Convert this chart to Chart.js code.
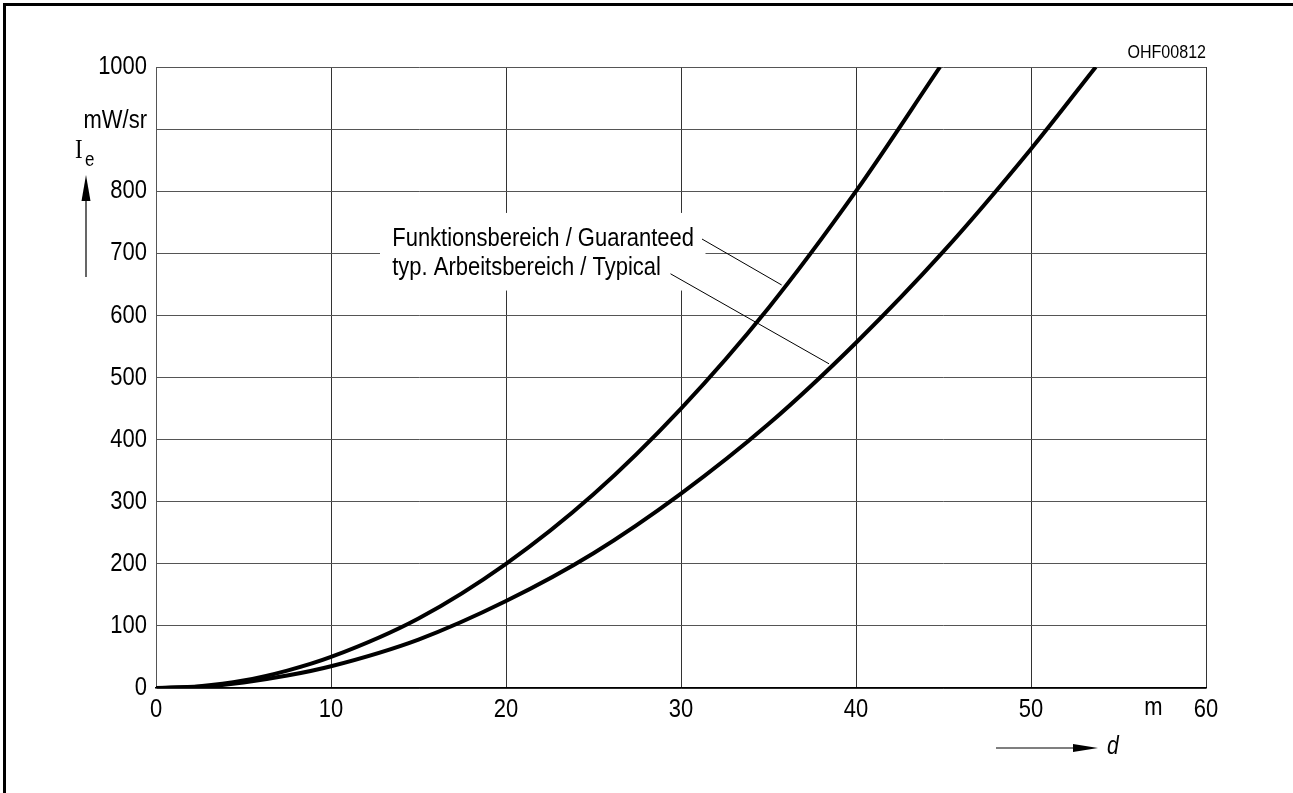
<!DOCTYPE html>
<html><head><meta charset="utf-8">
<script src="https://cdn.jsdelivr.net/npm/chart.js@4/dist/chart.umd.min.js"></script>
<style>html,body{margin:0;padding:0;background:#fff;overflow:hidden}#wrap{width:1293px;height:793px;position:relative}</style>
</head><body><div id="wrap"><canvas id="c"></canvas></div>
<script>
// Data
const guaranteedD = [0, 2.5, 5, 7.5, 10, 15, 20, 25, 30, 35, 40, 44.8];
const guaranteedI = [0, 3, 12, 28, 50, 112, 200, 312, 450, 612, 800, 1000];
const typicalD = [0, 2.5, 5, 7.5, 10, 15, 20, 25, 30, 35, 40, 45, 50, 53.7];
const typicalI = [0, 2, 9, 20, 35, 78, 140, 217, 313, 425, 556, 703, 868, 1000];
const xTicks = [0, 10, 20, 30, 40, 50, 60];
const yTicks = [0, 100, 200, 300, 400, 500, 600, 700, 800, 900, 1000];
const seriesLabels = ['Funktionsbereich / Guaranteed', 'typ. Arbeitsbereich / Typical'];
const yUnit = 'mW/sr';
const xUnit = 'm';
const figId = 'OHF00812';

const SANS = "'Liberation Sans',Arial,sans-serif";
const NARROW_SCALE = 0.845;

// condensed text rendering (narrow Helvetica look) for all text on this canvas
const canvas = document.getElementById('c');
const c2d = canvas.getContext('2d');
const origFill = c2d.fillText.bind(c2d);
c2d.fillText = function (text, x, y, maxW) {
  this.save();
  this.translate(x, y);
  this.scale(NARROW_SCALE, 1);
  if (maxW !== undefined) origFill(text, 0, 0, maxW / NARROW_SCALE); else origFill(text, 0, 0);
  this.restore();
};

function pts(xs, ys) { return xs.map((x, i) => ({ x: x, y: ys[i] })); }

const decor = {
  id: 'decor',
  afterDraw(chart) {
    const ctx = chart.ctx, ca = chart.chartArea;
    const xs = chart.scales.x, ys = chart.scales.y;
    ctx.save();
    // figure frame
    ctx.strokeStyle = '#000'; ctx.lineWidth = 3;
    ctx.strokeRect(4.5, 4.5, 1400, 900);
    ctx.fillStyle = '#000';
    // figure id
    ctx.font = "19px " + SANS; ctx.textAlign = 'right'; ctx.textBaseline = 'middle';
    ctx.fillText(figId, ca.right, 53);
    // y unit
    ctx.font = "26px " + SANS;
    ctx.fillText(yUnit, ca.left - 9, ys.getPixelForValue(900) - 8);
    // I_e
    ctx.textAlign = 'left';
    ctx.font = "27px 'Liberation Serif','DejaVu Serif',serif";
    ctx.fillText('I', 75, 151);
    ctx.font = "20px " + SANS;
    ctx.fillText('e', 85, 160);
    // y arrow
    ctx.strokeStyle = '#000'; ctx.lineWidth = 1.2;
    ctx.beginPath(); ctx.moveTo(86, 277); ctx.lineTo(86, 198); ctx.stroke();
    ctx.beginPath(); ctx.moveTo(86, 175); ctx.lineTo(81.5, 201); ctx.lineTo(90.5, 201); ctx.closePath(); ctx.fill();
    // x unit
    ctx.textAlign = 'center';
    ctx.font = "26px " + SANS;
    ctx.fillText(xUnit, xs.getPixelForValue(57), 708);
    // x arrow
    ctx.beginPath(); ctx.moveTo(996, 748); ctx.lineTo(1076, 748); ctx.stroke();
    ctx.beginPath(); ctx.moveTo(1098, 748); ctx.lineTo(1073, 744); ctx.lineTo(1073, 752); ctx.closePath(); ctx.fill();
    ctx.textAlign = 'left';
    ctx.font = "italic 25px " + SANS;
    ctx.fillText('d', 1107, 747);
    // annotation box
    const bx0 = xs.getPixelForValue(12.8), bx1 = xs.getPixelForValue(31.4);
    const by0 = ys.getPixelForValue(765), by1 = ys.getPixelForValue(640);
    ctx.fillStyle = '#fff';
    ctx.fillRect(bx0, by0, bx1 - bx0, by1 - by0);
    ctx.fillStyle = '#000';
    ctx.font = "26px " + SANS;
    ctx.textBaseline = 'middle';
    const tx = xs.getPixelForValue(13.5);
    ctx.fillText(seriesLabels[0], tx, ys.getPixelForValue(723));
    ctx.fillText(seriesLabels[1], tx, ys.getPixelForValue(676));
    // leader lines
    ctx.lineWidth = 1;
    ctx.beginPath();
    ctx.moveTo(xs.getPixelForValue(31.2), ys.getPixelForValue(723));
    ctx.lineTo(xs.getPixelForValue(35.75), ys.getPixelForValue(649));
    ctx.moveTo(xs.getPixelForValue(29.4), ys.getPixelForValue(667));
    ctx.lineTo(xs.getPixelForValue(38.46), ys.getPixelForValue(522));
    ctx.stroke();
    ctx.restore();
  }
};

new Chart(canvas, {
  type: 'line',
  data: {
    datasets: [
      { label: seriesLabels[0], data: pts(guaranteedD, guaranteedI), borderColor: '#000', borderWidth: 4, pointRadius: 0, fill: false, cubicInterpolationMode: 'monotone' },
      { label: seriesLabels[1], data: pts(typicalD, typicalI), borderColor: '#000', borderWidth: 4, pointRadius: 0, fill: false, cubicInterpolationMode: 'monotone' }
    ]
  },
  options: {
    responsive: true, maintainAspectRatio: false, animation: false,
    layout: { padding: { left: 0, top: 67, right: 87, bottom: 0 } },
    plugins: { legend: { display: false }, tooltip: { enabled: false } },
    scales: {
      x: {
        type: 'linear', min: 0, max: 60,
        afterBuildTicks: s => { s.ticks = xTicks.map(v => ({ value: v })); },
        afterFit: s => { s.height = 105; },
        ticks: { color: '#000', font: { family: SANS, size: 26 }, padding: 6, maxRotation: 0, autoSkip: false },
        grid: { color: '#333', lineWidth: 1, drawTicks: false },
        border: { color: '#000', width: 1.5 }
      },
      y: {
        type: 'linear', min: 0, max: 1000,
        afterBuildTicks: s => { s.ticks = yTicks.map(v => ({ value: v })); },
        afterFit: s => { s.width = 156; },
        ticks: { color: '#000', font: { family: SANS, size: 26 }, padding: 9, autoSkip: false,
          callback: v => (v === 900 ? '' : String(v)) },
        grid: { color: '#555', lineWidth: 1, drawTicks: false },
        border: { color: '#555', width: 1 }
      }
    }
  },
  plugins: [decor]
});
</script>
</body></html>
